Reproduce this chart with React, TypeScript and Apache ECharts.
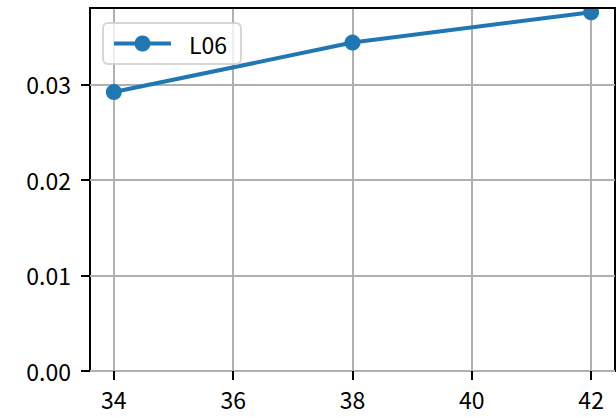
import React, { useEffect, useRef } from "react";
import * as echarts from "echarts";

const xValues = [34, 38, 42];
const seriesL06 = [0.0292, 0.03438, 0.03756];
const xTicks = [34, 36, 38, 40, 42];
const yTicks = [0, 0.01, 0.02, 0.03];
const seriesName = "L06";

const FONT = '"Noto Sans CJK JP", "Noto Sans", sans-serif';

export default function App() {
  const ref = useRef<HTMLDivElement>(null);
  useEffect(() => {
    document.body.style.margin = "0";
    const chart = echarts.init(ref.current!, null, { renderer: "svg" });
    chart.setOption({
      animation: false,
      backgroundColor: "#ffffff",
      grid: {
        left: 90,
        top: 8,
        width: 525,
        height: 363,
        show: true,
        borderColor: "#000000",
        borderWidth: 2,
        backgroundColor: "transparent",
      },
      legend: {
        left: 103,
        top: 23,
        orient: "vertical",
        data: [seriesName],
        itemWidth: 57,
        itemHeight: 20,
        padding: [9, 14, 9, 9],
        backgroundColor: "rgba(255,255,255,0.8)",
        borderColor: "rgba(204,204,204,0.8)",
        borderWidth: 2,
        borderRadius: 5,
        lineStyle: { width: 4, color: "#1f77b4" },
        textStyle: {
          fontFamily: FONT,
          fontSize: 23,
          color: "#000000",
          padding: [0, 0, 0, 13],
        },
      },
      xAxis: {
        type: "value",
        min: 33.6,
        max: 42.4,
        axisLine: { show: false },
        axisTick: {
          show: true,
          customValues: xTicks,
          length: 9,
          lineStyle: { color: "#000000", width: 2 },
        },
        axisLabel: {
          customValues: xTicks,
          margin: 16,
          fontFamily: FONT,
          fontSize: 23,
          color: "#000000",
          formatter: (v: number) => String(v),
        },
        splitLine: {
          show: true,
          lineStyle: { color: "#b0b0b0", width: 2 },
        },
      },
      yAxis: {
        type: "value",
        min: 0,
        max: 0.038,
        axisLine: { show: false },
        axisTick: {
          show: true,
          customValues: yTicks,
          length: 9,
          lineStyle: { color: "#000000", width: 2 },
        },
        axisLabel: {
          customValues: yTicks,
          margin: 19,
          fontFamily: FONT,
          fontSize: 23,
          color: "#000000",
          formatter: (v: number) => v.toFixed(2),
        },
        splitLine: {
          show: true,
          lineStyle: { color: "#b0b0b0", width: 2 },
        },
      },
      series: [
        {
          name: seriesName,
          type: "line",
          data: xValues.map((x, i) => [x, seriesL06[i]]),
          symbol: "circle",
          symbolSize: 16,
          lineStyle: { color: "#1f77b4", width: 4 },
          itemStyle: { color: "#1f77b4" },
          z: 3,
        },
      ],
      graphic: [
        {
          type: "rect",
          z: 100,
          shape: { x: 80, y: 0, width: 540, height: 7 },
          style: { fill: "#ffffff" },
        },
        {
          type: "line",
          z: 101,
          shape: { x1: 89, y1: 8, x2: 616, y2: 8 },
          style: { stroke: "#000000", lineWidth: 2 },
        },
      ],
    });
    return () => chart.dispose();
  }, []);
  return <div ref={ref} style={{ width: 616, height: 418 }} />;
}
